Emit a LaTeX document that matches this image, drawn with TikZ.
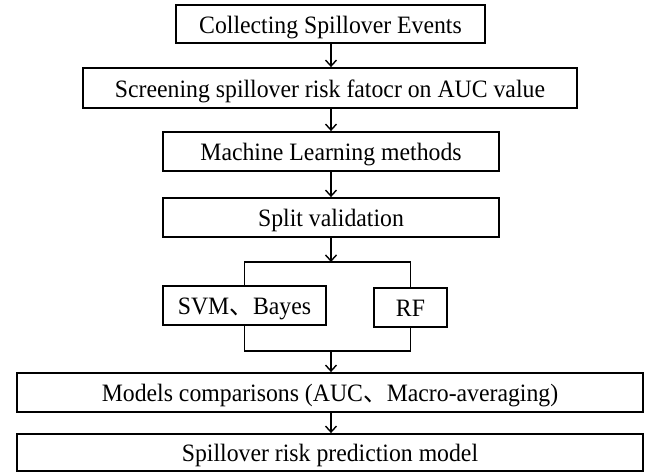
\documentclass[tikz,border=0pt]{standalone}
\usepackage{fontspec}
\setmainfont{Liberation Serif}[FakeStretch=0.95]
\newfontfamily\cjk{Noto Sans CJK SC}[FakeStretch=0.95]
\usetikzlibrary{arrows.meta}
\begin{document}
\begin{tikzpicture}[x=1pt,y=1pt,
  box/.style={draw, line width=1.8pt, inner sep=0pt, minimum height=39pt,
    text height=19pt, text depth=0pt,
    font=\fontsize{25}{29}\selectfont},
  link/.style={line width=1.5pt},
  arr/.style={link, -{Straight Barb[length=6pt,width=11pt,line width=1.4pt]}}]
\useasboundingbox (0,0) rectangle (646,473);
\node[box, minimum width=309pt, minimum height=38pt] (b1) at (330.5,449) {Collecting Spillover Events};
\node[box, minimum width=494pt, minimum height=40pt] (b2) at (330,385) {Screening spillover risk fatocr on AUC value};
\node[box, minimum width=336pt] (b3) at (331,321.5) {Machine Learning methods};
\node[box, minimum width=336pt] (b4) at (331,255.5) {Split validation};
\node[box, minimum width=163pt] (svm) at (244.5,167.5) {SVM{\cjk 、}Bayes};
\node[box, minimum width=73pt] (rf) at (410.5,165.5) {RF};
\node[box, minimum width=626pt] (b6) at (330,80.5) {Models comparisons (AUC{\cjk 、}Macro-averaging)};
\node[box, minimum width=626pt, minimum height=37pt] (b7) at (330,20.5) {Spillover risk prediction model};
\coordinate (split) at (331,211);
\coordinate (join) at (331,122);
\draw[arr] (b1.south -| split) -- (b2.north -| split);
\draw[arr] (b2.south -| split) -- (b3.north -| split);
\draw[arr] (b3.south -| split) -- (b4.north -| split);
\draw[arr] (b4.south -| split) -- (split);
\draw[link] (svm.north) -- (svm.north |- split) -- (rf.north |- split) -- (rf.north);
\draw[link] (svm.south) -- (svm.south |- join) -- (rf.south |- join) -- (rf.south);
\draw[arr] (join) -- (b6.north -| join);
\draw[arr] (b6.south -| join) -- (b7.north -| join);
\end{tikzpicture}
\end{document}
